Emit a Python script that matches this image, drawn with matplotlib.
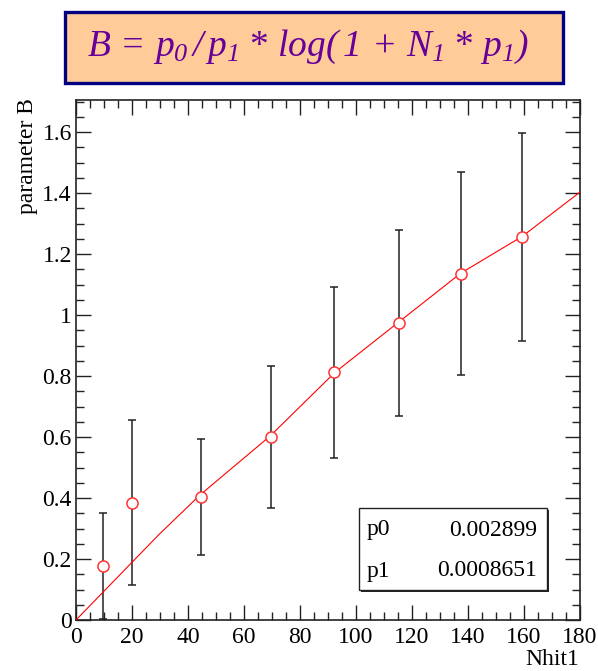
import matplotlib
matplotlib.use("Agg")
import matplotlib.pyplot as plt
from matplotlib.patches import Rectangle
from matplotlib.ticker import MultipleLocator

plt.rcParams['font.family'] = ['Liberation Serif', 'DejaVu Serif']
plt.rcParams['mathtext.fontset'] = 'custom'
plt.rcParams['mathtext.rm'] = 'Liberation Serif:italic'
plt.rcParams['mathtext.it'] = 'Liberation Serif:italic'

# data points
nhit = [9.5, 20.1, 44.5, 69.6, 92.3, 115.4, 137.4, 159.4]
param_b = [0.177, 0.385, 0.403, 0.600, 0.812, 0.974, 1.136, 1.256]
param_b_err = [0.175, 0.270, 0.190, 0.232, 0.281, 0.306, 0.333, 0.342]

# fitted curve
fit_x = [0, 29.5, 44.3, 69.3, 92.5, 115.0, 137.4, 159.4, 180.0]
fit_y = [0.0, 0.279, 0.410, 0.603, 0.812, 0.975, 1.137, 1.258, 1.403]

stat_names = ["p0", "p1"]
stat_values = ["0.002899", "0.0008651"]

title_text = r'$B\,=\,p_0\,/\,p_1$ * $log(\,1\,+\,N_1$ * $p_1)$'

W, H = 598, 671
fig = plt.figure(figsize=(W / 100, H / 100), dpi=100)
ax = fig.add_axes([76 / W, 1 - 620 / H, (580 - 76) / W, (620 - 100) / H])

ax.plot(fit_x, fit_y, color='#ff0000', lw=0.8, zorder=3)
ax.errorbar(nhit, param_b, yerr=param_b_err, fmt='none', ecolor='#222222',
            elinewidth=1.1, capsize=3, capthick=1.1, zorder=2)
ax.plot(nhit, param_b, 'o', mfc='white', mec='#ff3333', mew=1.1, ms=8, zorder=4,
        linestyle='none')

ax.set_xlim(0, 180)
ax.set_ylim(0, 1.705)
ax.xaxis.set_major_locator(MultipleLocator(20))
ax.xaxis.set_minor_locator(MultipleLocator(5))
ax.yaxis.set_major_locator(MultipleLocator(0.2))
ax.yaxis.set_minor_locator(MultipleLocator(0.05))
ax.xaxis.set_major_formatter(matplotlib.ticker.FuncFormatter(lambda v, p: f"{v:g}"))
ax.yaxis.set_major_formatter(matplotlib.ticker.FuncFormatter(lambda v, p: f"{v:g}"))
ax.tick_params(which='both', direction='in', top=True, right=True, width=1.0,
               color='#222222', labelsize=17)
ax.tick_params(which='major', length=11)
ax.tick_params(which='minor', length=6)
ax.tick_params(axis='x', pad=5)
ax.tick_params(axis='y', pad=3)
for s in ax.spines.values():
    s.set_linewidth(1.2)
    s.set_color('#222222')

fig.text(27 / W, 1 - 98 / H, 'parameter B', rotation=90, ha='center', va='top',
         fontsize=17)
fig.text(579 / W, 0.002, 'Nhit1', ha='right', va='bottom', fontsize=17)

# stats box
sx0, sx1 = (359 - 76) / 504, (547 - 76) / 504
sy0, sy1 = (620 - 590) / 520, (620 - 508) / 520
ax.add_patch(Rectangle((sx0 + 0.003, sy0 - 0.003), sx1 - sx0, sy1 - sy0,
                       transform=ax.transAxes, facecolor='#222222', edgecolor='none',
                       zorder=5))
ax.add_patch(Rectangle((sx0, sy0), sx1 - sx0, sy1 - sy0, transform=ax.transAxes,
                       facecolor='white', edgecolor='#222222', lw=1.0, zorder=6))
row_y = [(620 - 530) / 520, (620 - 571) / 520]
for name, val, yy in zip(stat_names, stat_values, row_y):
    ax.text((367 - 76) / 504, yy, name, transform=ax.transAxes, ha='left',
            va='center', fontsize=17, zorder=7)
    ax.text((537 - 76) / 504, yy, val, transform=ax.transAxes, ha='right',
            va='center', fontsize=17, zorder=7)

# title box
fig.patches.append(Rectangle((65 / W, 1 - 83 / H), 498 / W, 71 / H,
                             transform=fig.transFigure, facecolor='#ffcc99',
                             edgecolor='#000080', lw=2.4))
fig.text(87 / W, 1 - 47 / H, title_text, ha='left', va='center', fontsize=27,
         color='#660099')

fig.savefig('out.png', dpi=100)
